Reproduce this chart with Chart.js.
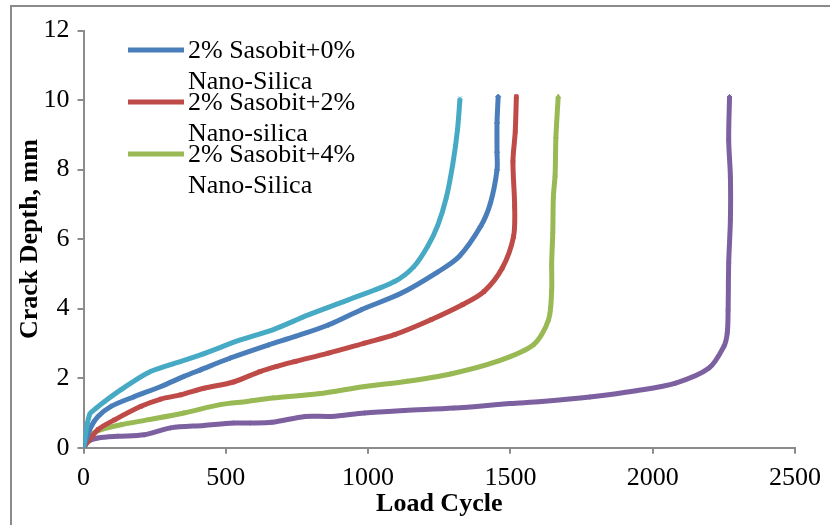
<!DOCTYPE html>
<html>
<head>
<meta charset="utf-8">
<script src="https://cdn.jsdelivr.net/npm/chart.js@4.4.1/dist/chart.umd.min.js"></script>
<style>
  html, body { margin: 0; padding: 0; background: #ffffff; }
  #wrap { width: 830px; height: 525px; position: relative; }
</style>
</head>
<body>
<div id="wrap"><canvas id="c" width="830" height="525"></canvas></div>
<script>
// ---- data ----
const seriesLabels = [
  "2% Sasobit+0% Nano-Silica",
  "2% Sasobit+2% Nano-silica",
  "2% Sasobit+4% Nano-Silica",
  "Series 4",
  "Series 5"
];
const legendLines = [
  ["2% Sasobit+0%", "Nano-Silica"],
  ["2% Sasobit+2%", "Nano-silica"],
  ["2% Sasobit+4%", "Nano-Silica"]
];

const blueX = [0, 27, 51, 97, 179, 272, 353, 411, 516, 651, 744, 860, 976, 1116, 1244, 1320, 1395, 1430, 1453, 1453, 1453, 1457];
const blueY = [0, 0.61, 0.9, 1.19, 1.47, 1.76, 2.05, 2.24, 2.58, 2.96, 3.2, 3.53, 3.97, 4.44, 5.05, 5.5, 6.36, 7.04, 7.99, 8.5, 9.34, 10.1];

const redX = [0, 51, 109, 202, 272, 341, 423, 527, 620, 679, 744, 860, 988, 1093, 1221, 1331, 1407, 1471, 1511, 1515, 1509, 1517, 1521];
const redY = [0, 0.52, 0.8, 1.19, 1.4, 1.52, 1.71, 1.89, 2.19, 2.34, 2.48, 2.72, 3.01, 3.25, 3.68, 4.11, 4.49, 5.16, 6.07, 6.93, 8.23, 9.09, 10.1];

const greenX = [0, 27, 62, 132, 225, 353, 481, 574, 665, 826, 988, 1139, 1290, 1453, 1581, 1634, 1645, 1645, 1649, 1651, 1657, 1660, 1668];
const greenY = [0, 0.37, 0.52, 0.66, 0.8, 1.0, 1.24, 1.33, 1.43, 1.55, 1.76, 1.91, 2.12, 2.48, 2.96, 3.68, 4.54, 5.31, 6.22, 7.22, 7.84, 8.95, 10.1];

const cyanX = [0, 21, 45, 74, 132, 225, 306, 411, 551, 665, 790, 930, 1093, 1160, 1210, 1245, 1275, 1298, 1314, 1323];
const cyanY = [0, 0.95, 1.14, 1.33, 1.67, 2.15, 2.39, 2.67, 3.1, 3.39, 3.82, 4.25, 4.78, 5.2, 5.8, 6.4, 7.2, 8.18, 9.14, 10.05];

const purpleX = [0, 16, 51, 120, 213, 306, 423, 527, 586, 662, 779, 872, 988, 1128, 1302, 1500, 1610, 1779, 1942, 2081, 2198, 2250, 2262, 2265, 2267, 2273, 2273, 2267, 2270];
const purpleY = [0, 0.18, 0.28, 0.33, 0.37, 0.57, 0.64, 0.71, 0.71, 0.73, 0.9, 0.9, 1.0, 1.07, 1.14, 1.27, 1.33, 1.46, 1.64, 1.86, 2.29, 2.91, 3.3, 3.97, 5.31, 6.55, 7.8, 8.85, 10.1];

const xTicks = [0, 500, 1000, 1500, 2000, 2500];
const yTicks = [0, 2, 4, 6, 8, 10, 12];

// ---- build ----
const colors = ["#4A7EBB", "#BE4B48", "#98B954", "#46AAC5", "#7D60A0"];
const styles = ["rectRot", "rect", "triangle", "crossRot", "star"];
const xs = [blueX, redX, greenX, cyanX, purpleX];
const ys = [blueY, redY, greenY, cyanY, purpleY];

const datasets = xs.map((xa, i) => ({
  label: seriesLabels[i],
  data: xa.map((x, j) => ({ x: x, y: ys[i][j] })),
  showLine: true,
  borderColor: colors[i],
  backgroundColor: colors[i],
  borderWidth: 5,
  pointStyle: styles[i],
  pointRadius: 2.5,
  pointBorderWidth: 1,
  pointBorderColor: colors[i],
  pointBackgroundColor: colors[i],
  tension: 0.3,
  order: i === 3 ? -1 : i
}));

const FONT = "'Liberation Serif', 'Times New Roman', serif";

const framePlugin = {
  id: 'frame',
  beforeDraw(chart) {
    const ctx = chart.ctx;
    ctx.save();
    ctx.fillStyle = '#ffffff';
    ctx.fillRect(0, 0, chart.width, chart.height);
    ctx.strokeStyle = '#8a8a8a';
    ctx.lineWidth = 2;
    ctx.beginPath();
    ctx.moveTo(11, 530);
    ctx.lineTo(11, 6);
    ctx.lineTo(835, 6);
    ctx.stroke();
    ctx.restore();
  }
};

const legendPlugin = {
  id: 'customLegend',
  afterDraw(chart) {
    const ctx = chart.ctx;
    ctx.save();
    ctx.font = "26px " + FONT;
    ctx.textBaseline = 'middle';
    ctx.textAlign = 'left';
    legendLines.forEach((lines, i) => {
      const y0 = 51 + i * 52;
      ctx.strokeStyle = colors[i];
      ctx.lineWidth = 5;
      ctx.beginPath();
      ctx.moveTo(128, y0 - 1);
      ctx.lineTo(184, y0 - 1);
      ctx.stroke();
      ctx.fillStyle = '#000000';
      ctx.fillText(lines[0], 188, y0);
      ctx.fillText(lines[1], 188, y0 + 31);
    });
    ctx.restore();
  }
};

new Chart(document.getElementById('c'), {
  type: 'scatter',
  data: { datasets: datasets },
  plugins: [framePlugin, legendPlugin],
  options: {
    responsive: false,
    animation: false,
    events: [],
    layout: { padding: { left: 0, top: 30.5, right: 30, bottom: 0 } },
    plugins: { legend: { display: false }, tooltip: { enabled: false } },
    scales: {
      x: {
        type: 'linear',
        min: 0, max: 2500,
        afterBuildTicks(scale) { scale.ticks = xTicks.map(v => ({ value: v })); },
        afterFit(scale) { scale.height = 77.3; },
        ticks: {
          font: { family: FONT, size: 26 },
          color: '#000000',
          padding: 9,
          maxRotation: 0,
          callback: v => String(v)
        },
        grid: { drawOnChartArea: false, drawTicks: true, tickLength: 6, color: '#8c8c8c', lineWidth: 2 },
        border: { display: true, color: '#8c8c8c', width: 2 },
        title: {
          display: true, text: 'Load Cycle', color: '#000000',
          font: { family: FONT, size: 26, weight: 'bold' },
          padding: { top: 0, bottom: 5 }
        }
      },
      y: {
        type: 'linear',
        min: 0, max: 12,
        afterBuildTicks(scale) { scale.ticks = yTicks.map(v => ({ value: v })); },
        afterFit(scale) { scale.width = 83.5; },
        ticks: {
          font: { family: FONT, size: 26 },
          color: '#000000',
          padding: 8,
          callback: v => String(v)
        },
        grid: { drawOnChartArea: false, drawTicks: true, tickLength: 6, color: '#8c8c8c', lineWidth: 2 },
        border: { display: true, color: '#8c8c8c', width: 2 },
        title: {
          display: true, text: 'Crack Depth, mm', color: '#000000',
          font: { family: FONT, size: 26, weight: 'bold' },
          padding: { top: 15, bottom: 0 }
        }
      }
    }
  }
});
</script>
</body>
</html>
